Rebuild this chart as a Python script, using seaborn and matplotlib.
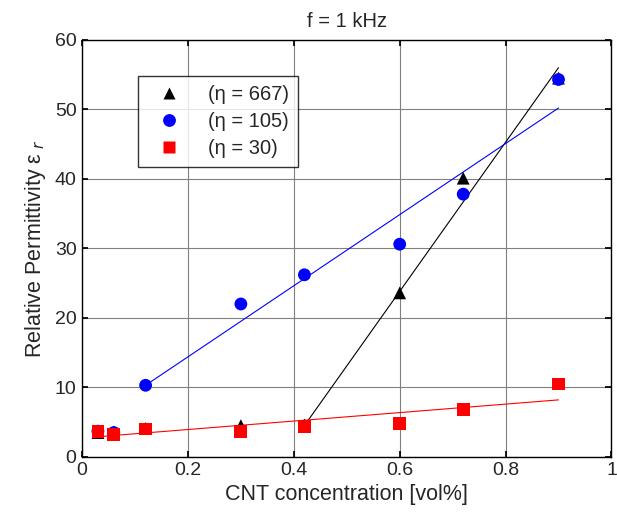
import numpy as np
import pandas as pd
import seaborn as sns
import matplotlib.pyplot as plt

# CNT concentration [vol%]
conc = [0.03, 0.06, 0.12, 0.30, 0.42, 0.60, 0.72, 0.90]

# relative permittivity per aspect ratio
eps_667 = [3.5, 3.6, 4.1, 4.5, 4.6, 23.6, 40.1, 54.5]
eps_105 = [3.7, 3.5, 10.3, 22.0, 26.2, 30.6, 37.8, 54.3]
eps_30 = [3.7, 3.2, 4.0, 3.6, 4.4, 4.8, 6.8, 10.5]

labels = ['(η = 667)', '(η = 105)', '(η = 30)']

# fitted trend lines (endpoints)
fit_667_x = [0.42, 0.90]
fit_667_y = [4.5, 56.0]
fit_105_x = [0.12, 0.90]
fit_105_y = [10.3, 50.2]
fit_30_x = [0.03, 0.90]
fit_30_y = [2.9, 8.2]


def main():
    sns.set_theme(style='whitegrid')
    plt.rcParams['font.family'] = ['Liberation Sans', 'DejaVu Sans']

    df = pd.DataFrame({
        'conc': conc * 3,
        'eps': eps_667 + eps_105 + eps_30,
        'series': [labels[0]] * len(conc) + [labels[1]] * len(conc) + [labels[2]] * len(conc),
    })

    fig = plt.figure(figsize=(6.17, 5.18), dpi=100)
    ax = fig.add_axes([0.133, 0.118, 0.858, 0.805])

    # fit lines
    sns.lineplot(x=fit_667_x, y=fit_667_y, color='black', lw=0.8, ax=ax, legend=False)
    sns.lineplot(x=fit_105_x, y=fit_105_y, color='blue', lw=0.8, ax=ax, legend=False)
    sns.lineplot(x=fit_30_x, y=fit_30_y, color='red', lw=0.8, ax=ax, legend=False)

    # data points
    sns.scatterplot(data=df, x='conc', y='eps', hue='series', style='series',
                    palette={labels[0]: 'black', labels[1]: 'blue', labels[2]: 'red'},
                    markers={labels[0]: '^', labels[1]: 'o', labels[2]: 's'},
                    s=85, edgecolor='none', ax=ax, zorder=3)

    ax.set_xlim(0, 1)
    ax.set_ylim(0, 60)
    ax.set_xticks([0, 0.2, 0.4, 0.6, 0.8, 1])
    ax.set_xticklabels(['0', '0.2', '0.4', '0.6', '0.8', '1'])
    ax.set_yticks(range(0, 61, 10))

    ax.grid(True, color='#808080', lw=0.8)
    for s in ax.spines.values():
        s.set_color('black')
        s.set_linewidth(1.0)
    ax.tick_params(direction='in', length=4, color='black', labelsize=14, pad=4,
                   top=True, right=True, bottom=True, left=True)

    ax.set_title('f = 1 kHz', fontsize=14.5, pad=9)
    ax.set_xlabel('CNT concentration [vol%]', fontsize=15.5, labelpad=3)
    ax.set_ylabel('Relative Permittivity ε$_{\\ r}$', fontsize=15.5, labelpad=5)

    leg = ax.legend(loc='upper left', bbox_to_anchor=(0.106, 0.914), fontsize=14.5,
                    frameon=True, fancybox=False, edgecolor='black', borderaxespad=0,
                    handletextpad=0.8, borderpad=0.45, labelspacing=0.4,
                    handlelength=2.2)
    leg.get_frame().set_linewidth(1.0)

    fig.savefig('out.png', dpi=100, facecolor='white')
    plt.close(fig)


if __name__ == '__main__':
    main()
